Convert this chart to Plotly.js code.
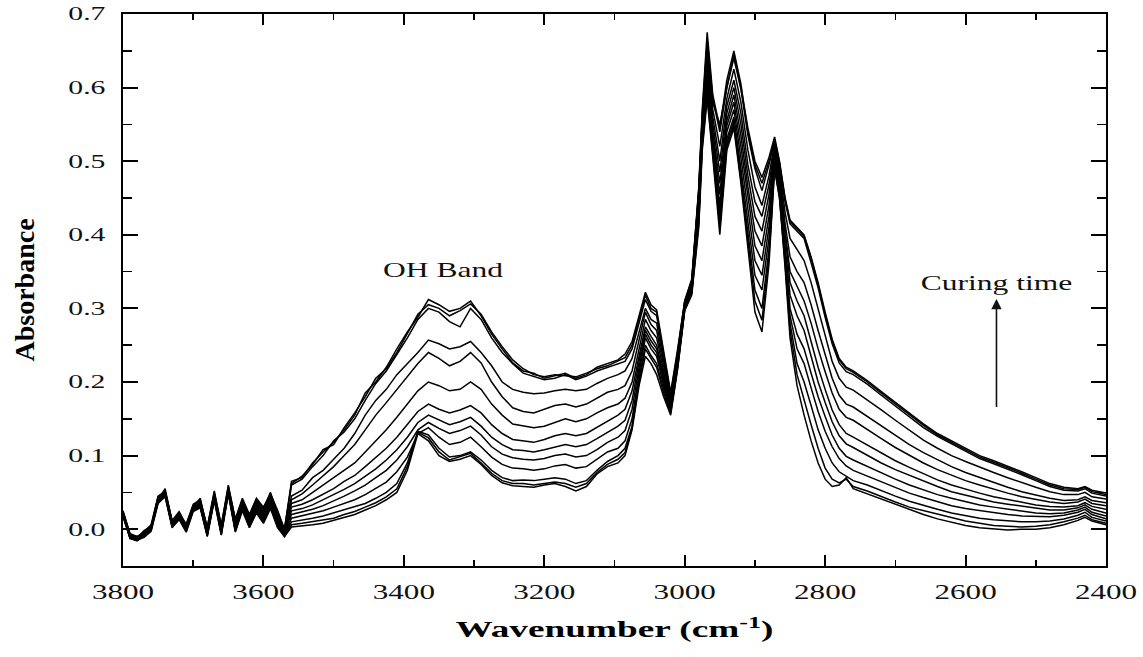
<!DOCTYPE html>
<html><head><meta charset="utf-8">
<script src="https://cdn.plot.ly/plotly-3.0.1.min.js"></script>
<style>html,body{margin:0;padding:0;background:#fff;} #chart{width:1143px;height:657px;}</style>
</head><body><div id="chart"></div>
<script>
// Wavenumber grid (cm-1), shared by all spectra
const wavenumber = [
 3800,3790,3780,3770,3760,3750,3740,3730,3720,3710,3700,3690,3680,3670,3660,3650,3640,3630,3620,3610,3600,3590,3580,3570,
 3560,3545,3530,3515,3500,3485,3470,3455,3440,3425,3410,3395,3380,3365,3350,3335,3320,3305,3290,3275,3260,3245,3230,3215,3200,3185,3170,3155,3140,3125,3110,3095,
 3085,3075,3065,3056,3048,3040,3030,3020,3010,3000,2990,2980,2975,2968,2960,2950,2940,2930,2920,2910,2900,2890,2880,2872,2865,2857,2850,2840,2830,2820,2810,2800,2790,2780,2770,2760,
 2740,2720,2700,2680,2660,2640,2620,2600,2580,2560,2540,2520,2500,2480,2460,2440,2430,2420,2400];

// Absorbance spectra, earliest (spec00) to longest curing time (spec12)
const spec00 = [
 0.017,-0.012,-0.015,-0.011,-0.003,0.035,0.044,0.002,0.013,-0.004,0.024,0.029,-0.01,0.039,-0.008,0.048,-0.004,0.025,0.002,0.022,0.008,0.028,0.002,-0.01,
 0.003,0.004,0.006,0.008,0.012,0.016,0.02,0.026,0.032,0.04,0.05,0.08,0.13,0.12,0.1,0.092,0.095,0.1,0.088,0.073,0.063,0.059,0.058,0.057,0.06,0.062,0.058,0.052,0.058,0.075,0.085,0.09,
 0.1,0.135,0.195,0.235,0.225,0.21,0.18,0.155,0.218,0.297,0.318,0.41,0.515,0.585,0.505,0.4,0.515,0.545,0.47,0.385,0.295,0.268,0.36,0.49,0.45,0.355,0.26,0.195,0.155,0.12,0.09,0.068,0.058,0.06,0.07,0.055,
 0.048,0.04,0.033,0.026,0.02,0.014,0.009,0.005,0.002,0.0,-0.001,0.0,0.0,0.002,0.006,0.012,0.016,0.011,0.006];
const spec01 = [
 0.02,-0.013,-0.016,-0.009,-0.002,0.038,0.046,0.003,0.014,-0.003,0.025,0.03,-0.009,0.04,-0.007,0.049,-0.003,0.027,0.003,0.024,0.01,0.03,0.004,-0.01,
 0.006,0.008,0.01,0.012,0.015,0.02,0.024,0.03,0.036,0.044,0.055,0.085,0.132,0.124,0.105,0.094,0.098,0.103,0.09,0.076,0.066,0.062,0.062,0.06,0.062,0.064,0.062,0.057,0.062,0.077,0.088,0.095,
 0.104,0.138,0.2,0.245,0.232,0.22,0.185,0.158,0.22,0.298,0.32,0.415,0.52,0.59,0.51,0.41,0.52,0.55,0.475,0.395,0.31,0.284,0.37,0.49,0.45,0.36,0.27,0.21,0.175,0.142,0.11,0.083,0.068,0.063,0.068,0.058,
 0.052,0.044,0.037,0.03,0.025,0.02,0.015,0.011,0.008,0.005,0.004,0.003,0.004,0.006,0.01,0.015,0.019,0.013,0.008];
const spec02 = [
 0.018,-0.012,-0.014,-0.01,0.0,0.036,0.045,0.004,0.015,-0.002,0.026,0.031,-0.008,0.042,-0.006,0.051,-0.002,0.028,0.005,0.026,0.012,0.032,0.006,-0.008,
 0.01,0.012,0.015,0.018,0.022,0.026,0.03,0.035,0.042,0.05,0.062,0.09,0.133,0.128,0.11,0.098,0.1,0.105,0.094,0.08,0.07,0.066,0.067,0.066,0.068,0.07,0.068,0.062,0.066,0.08,0.092,0.1,
 0.11,0.14,0.205,0.25,0.236,0.225,0.19,0.16,0.222,0.299,0.322,0.42,0.525,0.595,0.515,0.42,0.525,0.555,0.48,0.405,0.325,0.3,0.38,0.495,0.455,0.365,0.28,0.225,0.2,0.168,0.135,0.11,0.09,0.078,0.072,0.066,
 0.06,0.052,0.045,0.038,0.032,0.027,0.022,0.018,0.015,0.013,0.011,0.01,0.01,0.011,0.014,0.019,0.023,0.016,0.011];
const spec03 = [
 0.022,-0.01,-0.015,-0.009,-0.001,0.041,0.047,0.006,0.016,0.0,0.029,0.032,-0.006,0.045,-0.004,0.05,0.0,0.03,0.006,0.027,0.014,0.034,0.008,-0.008,
 0.015,0.018,0.021,0.025,0.03,0.035,0.04,0.047,0.055,0.064,0.078,0.098,0.13,0.138,0.125,0.115,0.118,0.125,0.112,0.098,0.088,0.083,0.082,0.08,0.082,0.086,0.088,0.083,0.085,0.095,0.105,0.11,
 0.12,0.15,0.212,0.26,0.245,0.235,0.195,0.163,0.224,0.3,0.324,0.425,0.53,0.6,0.52,0.43,0.53,0.56,0.49,0.42,0.345,0.325,0.395,0.5,0.46,0.37,0.29,0.245,0.225,0.192,0.16,0.133,0.112,0.096,0.086,0.08,
 0.072,0.064,0.056,0.049,0.043,0.037,0.032,0.028,0.025,0.022,0.02,0.018,0.017,0.017,0.019,0.023,0.027,0.02,0.014];
const spec04 = [
 0.019,-0.011,-0.013,-0.008,0.002,0.039,0.049,0.005,0.018,-0.001,0.027,0.034,-0.007,0.043,-0.004,0.052,0.002,0.031,0.008,0.029,0.016,0.036,0.01,-0.007,
 0.02,0.023,0.027,0.032,0.038,0.045,0.052,0.06,0.07,0.08,0.094,0.112,0.135,0.145,0.137,0.13,0.134,0.14,0.128,0.112,0.102,0.097,0.095,0.094,0.096,0.1,0.102,0.098,0.1,0.108,0.118,0.125,
 0.134,0.163,0.22,0.265,0.25,0.24,0.2,0.165,0.226,0.301,0.325,0.43,0.535,0.61,0.53,0.44,0.54,0.57,0.505,0.435,0.365,0.345,0.41,0.5,0.465,0.375,0.3,0.265,0.245,0.212,0.18,0.153,0.128,0.11,0.099,0.094,
 0.085,0.076,0.068,0.06,0.053,0.047,0.042,0.037,0.033,0.03,0.027,0.024,0.022,0.021,0.022,0.026,0.03,0.023,0.018];
const spec05 = [
 0.021,-0.009,-0.01,-0.006,0.0,0.042,0.052,0.008,0.017,0.002,0.03,0.035,-0.005,0.044,-0.003,0.054,0.003,0.032,0.009,0.03,0.018,0.037,0.012,-0.006,
 0.025,0.028,0.033,0.04,0.046,0.054,0.062,0.072,0.082,0.094,0.108,0.125,0.145,0.155,0.148,0.142,0.146,0.152,0.14,0.125,0.115,0.108,0.107,0.105,0.108,0.112,0.115,0.112,0.115,0.123,0.132,0.14,
 0.148,0.175,0.228,0.27,0.256,0.245,0.205,0.168,0.228,0.302,0.326,0.435,0.54,0.615,0.535,0.455,0.548,0.58,0.52,0.45,0.385,0.365,0.425,0.505,0.47,0.385,0.318,0.29,0.27,0.235,0.2,0.172,0.146,0.127,0.116,0.111,
 0.1,0.09,0.081,0.073,0.065,0.058,0.051,0.046,0.041,0.037,0.034,0.031,0.028,0.026,0.026,0.029,0.033,0.027,0.022];
const spec06 = [
 0.02,-0.01,-0.014,-0.008,0.001,0.04,0.05,0.006,0.02,0.0,0.028,0.037,-0.006,0.045,-0.001,0.055,0.004,0.033,0.01,0.031,0.019,0.039,0.014,-0.006,
 0.03,0.034,0.04,0.048,0.055,0.065,0.073,0.085,0.098,0.11,0.125,0.142,0.16,0.17,0.163,0.158,0.162,0.168,0.158,0.142,0.13,0.122,0.12,0.118,0.122,0.127,0.13,0.127,0.13,0.138,0.147,0.155,
 0.163,0.188,0.235,0.275,0.262,0.25,0.21,0.17,0.23,0.303,0.328,0.44,0.545,0.62,0.54,0.47,0.555,0.59,0.535,0.465,0.405,0.385,0.44,0.51,0.475,0.395,0.335,0.31,0.29,0.255,0.22,0.19,0.162,0.142,0.13,0.125,
 0.114,0.103,0.093,0.084,0.075,0.067,0.06,0.054,0.049,0.044,0.04,0.036,0.033,0.031,0.03,0.032,0.036,0.031,0.027];
const spec07 = [
 0.023,-0.006,-0.012,-0.005,0.003,0.044,0.046,0.009,0.019,0.004,0.031,0.033,-0.003,0.047,-0.002,0.053,0.005,0.035,0.011,0.033,0.02,0.04,0.016,-0.005,
 0.035,0.04,0.05,0.06,0.07,0.08,0.09,0.105,0.12,0.135,0.152,0.17,0.188,0.2,0.195,0.188,0.19,0.2,0.19,0.17,0.155,0.143,0.14,0.138,0.14,0.145,0.15,0.146,0.15,0.158,0.165,0.17,
 0.178,0.2,0.245,0.285,0.27,0.26,0.215,0.172,0.232,0.304,0.33,0.445,0.55,0.63,0.55,0.485,0.565,0.6,0.55,0.48,0.425,0.405,0.455,0.515,0.48,0.405,0.35,0.33,0.31,0.28,0.245,0.214,0.185,0.163,0.152,0.148,
 0.135,0.123,0.111,0.1,0.09,0.081,0.073,0.066,0.06,0.054,0.049,0.044,0.04,0.037,0.035,0.037,0.041,0.035,0.032];
const spec08 = [
 0.018,-0.009,-0.013,-0.007,0.0,0.038,0.047,0.007,0.018,0.001,0.028,0.034,-0.004,0.044,0.0,0.052,0.007,0.034,0.014,0.034,0.022,0.042,0.018,-0.004,
 0.04,0.048,0.06,0.072,0.085,0.1,0.115,0.135,0.155,0.172,0.19,0.208,0.225,0.24,0.232,0.222,0.228,0.24,0.226,0.2,0.18,0.165,0.16,0.158,0.163,0.168,0.17,0.166,0.17,0.178,0.186,0.19,
 0.195,0.215,0.258,0.295,0.278,0.27,0.222,0.175,0.235,0.305,0.332,0.45,0.555,0.64,0.56,0.5,0.575,0.61,0.565,0.495,0.445,0.425,0.468,0.52,0.485,0.415,0.37,0.35,0.335,0.305,0.27,0.236,0.205,0.182,0.17,0.166,
 0.153,0.14,0.127,0.115,0.104,0.094,0.085,0.077,0.07,0.063,0.057,0.051,0.046,0.042,0.039,0.04,0.044,0.039,0.036];
const spec09 = [
 0.022,-0.007,-0.011,-0.005,0.002,0.042,0.05,0.009,0.021,0.003,0.029,0.036,-0.002,0.046,0.002,0.054,0.008,0.036,0.016,0.036,0.024,0.044,0.02,-0.003,
 0.045,0.053,0.07,0.08,0.095,0.11,0.13,0.155,0.175,0.19,0.21,0.225,0.24,0.257,0.252,0.245,0.248,0.255,0.24,0.222,0.2,0.19,0.186,0.184,0.185,0.188,0.19,0.188,0.19,0.198,0.205,0.21,
 0.215,0.232,0.27,0.3,0.285,0.28,0.228,0.178,0.238,0.306,0.334,0.455,0.56,0.65,0.57,0.52,0.585,0.625,0.58,0.515,0.465,0.44,0.48,0.525,0.49,0.43,0.395,0.38,0.365,0.335,0.3,0.262,0.228,0.205,0.193,0.189,
 0.176,0.162,0.148,0.134,0.121,0.11,0.1,0.092,0.084,0.077,0.07,0.063,0.057,0.051,0.047,0.047,0.05,0.044,0.041];
const spec10 = [
 0.024,-0.008,-0.014,-0.006,0.003,0.044,0.048,0.011,0.02,0.007,0.032,0.038,0.003,0.052,0.003,0.055,0.012,0.038,0.02,0.038,0.027,0.05,0.022,0.0,
 0.06,0.068,0.085,0.1,0.12,0.132,0.15,0.175,0.198,0.215,0.238,0.26,0.285,0.3,0.295,0.282,0.275,0.3,0.285,0.26,0.24,0.225,0.212,0.208,0.203,0.205,0.21,0.203,0.208,0.215,0.22,0.225,
 0.228,0.245,0.28,0.312,0.296,0.29,0.235,0.18,0.24,0.308,0.336,0.46,0.565,0.665,0.585,0.54,0.6,0.64,0.598,0.535,0.49,0.46,0.495,0.528,0.495,0.445,0.415,0.405,0.395,0.362,0.328,0.288,0.252,0.226,0.214,0.21,
 0.197,0.182,0.167,0.152,0.138,0.126,0.116,0.106,0.096,0.089,0.082,0.074,0.066,0.058,0.053,0.052,0.055,0.049,0.045];
const spec11 = [
 0.02,-0.01,-0.012,-0.002,0.004,0.04,0.055,0.01,0.022,0.004,0.03,0.042,0.0,0.048,0.004,0.06,0.012,0.04,0.018,0.04,0.028,0.046,0.024,-0.002,
 0.062,0.072,0.088,0.108,0.115,0.138,0.158,0.18,0.205,0.218,0.24,0.265,0.292,0.305,0.3,0.29,0.297,0.306,0.292,0.268,0.248,0.23,0.218,0.21,0.207,0.21,0.208,0.207,0.212,0.218,0.222,0.228,
 0.233,0.25,0.285,0.318,0.3,0.295,0.238,0.183,0.242,0.31,0.338,0.465,0.57,0.675,0.59,0.545,0.61,0.65,0.605,0.54,0.495,0.47,0.5,0.53,0.498,0.448,0.418,0.408,0.398,0.368,0.332,0.292,0.256,0.23,0.218,0.213,
 0.2,0.185,0.17,0.155,0.141,0.128,0.118,0.108,0.098,0.091,0.084,0.076,0.068,0.06,0.055,0.054,0.057,0.051,0.047];
const spec12 = [
 0.025,-0.006,-0.01,-0.004,0.006,0.045,0.052,0.012,0.024,0.006,0.034,0.04,0.002,0.05,0.006,0.058,0.014,0.042,0.02,0.042,0.03,0.048,0.026,0.0,
 0.065,0.07,0.09,0.105,0.118,0.135,0.155,0.185,0.2,0.22,0.245,0.268,0.288,0.312,0.305,0.296,0.3,0.31,0.29,0.265,0.245,0.226,0.215,0.212,0.205,0.208,0.212,0.205,0.21,0.22,0.225,0.23,
 0.238,0.255,0.29,0.322,0.305,0.298,0.242,0.186,0.245,0.31,0.34,0.46,0.56,0.66,0.58,0.55,0.6,0.645,0.6,0.545,0.5,0.478,0.505,0.533,0.5,0.45,0.42,0.41,0.4,0.37,0.335,0.295,0.258,0.232,0.22,0.215,
 0.202,0.187,0.172,0.157,0.143,0.13,0.12,0.11,0.1,0.093,0.086,0.078,0.07,0.062,0.057,0.055,0.058,0.053,0.049];

const spectra = [spec00,spec01,spec02,spec03,spec04,spec05,spec06,spec07,spec08,spec09,spec10,spec11,spec12];

const xTickVals = [3800,3600,3400,3200,3000,2800,2600,2400];
const yTickVals = [0.0,0.1,0.2,0.3,0.4,0.5,0.6,0.7];

const serif = '"Liberation Serif", "Times New Roman", serif';

const traces = spectra.map((s, i) => {
  const n = Math.min(s.length, wavenumber.length);
  return {
    type: 'scatter', mode: 'lines',
    x: wavenumber.slice(0, n), y: s.slice(0, n),
    line: {color: '#000', width: 1.5},
    hoverinfo: 'skip', showlegend: false, name: 'spectrum ' + i
  };
});

const layout = {
  width: 1143, height: 657,
  margin: {l: 123, r: 37, t: 14, b: 91},
  paper_bgcolor: '#fff', plot_bgcolor: '#fff',
  showlegend: false,
  xaxis: {
    range: [3800, 2400], tickvals: xTickVals,
    ticks: 'inside', ticklen: 11, tickwidth: 2, tickcolor: '#000',
    minor: {dtick: 100, tick0: 2400, ticks: 'inside', ticklen: 6, tickwidth: 1.5, tickcolor: '#000'},
    showline: true, linewidth: 2, linecolor: '#000', mirror: 'allticks',
    showgrid: false, zeroline: false,
    tickfont: {family: serif, size: 21, color: '#111'},
    ticklabelstandoff: 6,
    title: {text: 'Wavenumber (cm<sup>-1</sup>)', font: {family: serif, size: 23, color: '#000', weight: 'bold'}, standoff: 18}
  },
  yaxis: {
    range: [-0.05, 0.7], tickvals: yTickVals, tickformat: '.1f',
    ticks: 'inside', ticklen: 15, tickwidth: 2, tickcolor: '#000',
    minor: {dtick: 0.05, tick0: 0, ticks: 'inside', ticklen: 9, tickwidth: 1.5, tickcolor: '#000'},
    showline: true, linewidth: 2, linecolor: '#000', mirror: 'allticks',
    showgrid: false, zeroline: false,
    tickfont: {family: serif, size: 18, color: '#111'},
    ticklabelstandoff: 12,
    title: {text: 'Absorbance', font: {family: serif, size: 28, color: '#000', weight: 'bold'}, standoff: 40}
  },
  annotations: [
    {x: 3344, y: 0.352, xref: 'x', yref: 'y', text: 'OH Band', showarrow: false,
     font: {family: serif, size: 21, color: '#111'}},
    {x: 2556, y: 0.166, ax: 2556, ay: 0.334, xref: 'x', yref: 'y', axref: 'x', ayref: 'y',
     text: 'Curing time', font: {family: serif, size: 21, color: '#111'},
     showarrow: true, arrowside: 'start', startarrowhead: 2, startarrowsize: 1.3,
     arrowwidth: 1.6, arrowcolor: '#111', startstandoff: 2}
  ]
};

function stretch(selector, factor, target) {
  document.querySelectorAll(selector).forEach(t => {
    t.removeAttribute('textLength');
    const w = t.getComputedTextLength();
    if (!w) return;
    t.setAttribute('textLength', (target ? target : w * factor).toFixed(1));
    t.setAttribute('lengthAdjust', 'spacingAndGlyphs');
  });
}

Plotly.newPlot('chart', traces, layout, {staticPlot: true, displayModeBar: false}).then(() => {
  stretch('#chart .xtick text', 1.48);
  stretch('#chart .ytick text', 1.65);
  stretch('#chart .annotation-text', 1.5);
  stretch('#chart .g-xtitle text', 0, 318);
});
</script>
</body></html>
